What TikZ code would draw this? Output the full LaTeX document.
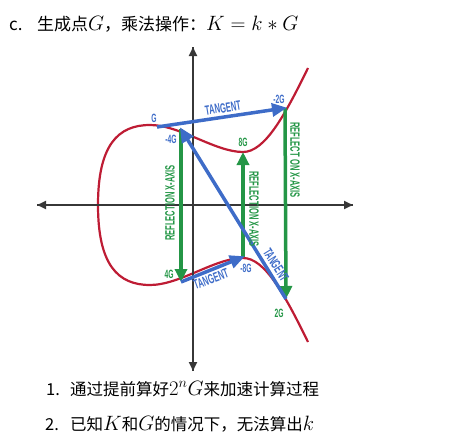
\documentclass[tikz,border=0pt]{standalone}
\usepackage{fontspec}
\usetikzlibrary{arrows.meta}
\newfontfamily\cjk{Noto Sans CJK SC}
\newfontfamily\lab[FakeStretch=0.56]{Liberation Sans Bold}
\newcommand{\mth}[2]{{\fontsize{#1}{#1}\selectfont$#2$}}
\definecolor{curvered}{RGB}{190,28,52}
\definecolor{tanblue}{RGB}{62,108,200}
\definecolor{refgreen}{RGB}{36,150,70}
\definecolor{axisgray}{RGB}{55,55,55}
\tikzset{
  axisline/.style={draw=axisgray, line width=2.2pt, -{Triangle[width=8pt,length=9pt]}},
  curveline/.style={draw=curvered, line width=2.2pt},
  tanarrow/.style={draw=tanblue, line width=3.5pt, -{Triangle[width=13pt,length=15pt]}, shorten >=-2pt},
  refarrow/.style={draw=refgreen, line width=3.5pt, -{Triangle[width=12pt,length=13pt]}},
  lbl/.style={font=\lab\fontsize{13.5}{14}\selectfont, inner sep=0pt},
  ptblue/.style={lbl, text=tanblue, font=\lab\fontsize{12}{12}\selectfont},
  ptgreen/.style={lbl, text=refgreen, font=\lab\fontsize{12}{12}\selectfont},
  bodytext/.style={font=\cjk\fontsize{16.5}{20}\selectfont, inner sep=0pt, anchor=base west},
}
\begin{document}
\begin{tikzpicture}[x=1pt, y=-1pt]
\useasboundingbox (0,0) rectangle (451,447);
% title
\node[bodytext, font=\cjk\fontsize{17}{20}\selectfont] (tc) at (9,30.5) {c.};
\node[bodytext, font=\cjk\fontsize{17}{20}\selectfont] (title) at (37,30.5) {生成点\mth{20.5}{G}，乘法操作：\mth{21}{K=k*G}};
% curve
\draw[curveline] (98,205) .. controls (98,145) and (118,125) .. (150,125)
  .. controls (180,125) and (215,152) .. (243,152)
  .. controls (265,152) and (285,115) .. (308,68);
\draw[curveline] (98,205) .. controls (98,265) and (118,285) .. (150,285)
  .. controls (180,285) and (215,258) .. (243,258)
  .. controls (265,258) and (285,295) .. (308,342);
% axes
\coordinate (xl) at (37,205);
\coordinate (xr) at (353,205);
\coordinate (yt) at (193,47);
\coordinate (yb) at (193,371);
\draw[axisline] (xr) -- (xl);
\draw[axisline] (xl) -- (xr);
\draw[axisline] (yb) -- (yt);
\draw[axisline] (yt) -- (yb);
% points
\coordinate (G) at (157,127);
\coordinate (m4G) at (181,129);
\coordinate (m2G) at (285,108);
\coordinate (p8G) at (243,152);
\coordinate (p4G) at (181,282);
\coordinate (m8G) at (243,257);
\coordinate (p2G) at (286,299);
% reflections
\draw[refarrow] (m4G) -- (p4G);
\draw[refarrow] (m8G) -- (p8G);
\draw[refarrow] (m2G) -- (p2G);
% tangents
\draw[tanarrow] (G) -- (m2G);
\draw[tanarrow] (p2G) -- (m4G);
\draw[tanarrow] (p4G) -- (m8G);
% labels
\node[lbl, text=tanblue, rotate=9] (t1) at (223,108) {TANGENT};
\node[lbl, text=tanblue, rotate=-58] (t2) at (276,265) {TANGENT};
\node[lbl, text=tanblue, rotate=20] (t3) at (211,279) {TANGENT};
\node[lbl, text=refgreen, rotate=90] (r1) at (170,203) {REFLECTION X-AXIS};
\node[lbl, text=refgreen, rotate=-90] (r2) at (254,209) {REFLECTION X-AXIS};
\node[lbl, text=refgreen, rotate=-90] (r3) at (295,160) {REFLECT ON X-AXIS};
\node[ptblue] (lG) at (154,118) {G};
\node[ptblue] (lm4G) at (171,139) {-4G};
\node[ptblue] (lm2G) at (279,99) {-2G};
\node[ptgreen] (lp8G) at (243,142) {8G};
\node[ptgreen] (lp4G) at (169,274) {4G};
\node[ptblue] (lm8G) at (246,268) {-8G};
\node[ptgreen] (lp2G) at (279,313) {2G};
% list
\node[bodytext] (n1) at (46,395) {1.};
\node[bodytext] (i1) at (70,395) {通过提前算好\mth{20}{2^nG}来加速计算过程};
\node[bodytext] (n2) at (45,430) {2.};
\node[bodytext] (i2) at (70,430) {已知\mth{20}{K}和\mth{20}{G}的情况下，无法算出\mth{20}{k}};
\end{tikzpicture}
\end{document}
